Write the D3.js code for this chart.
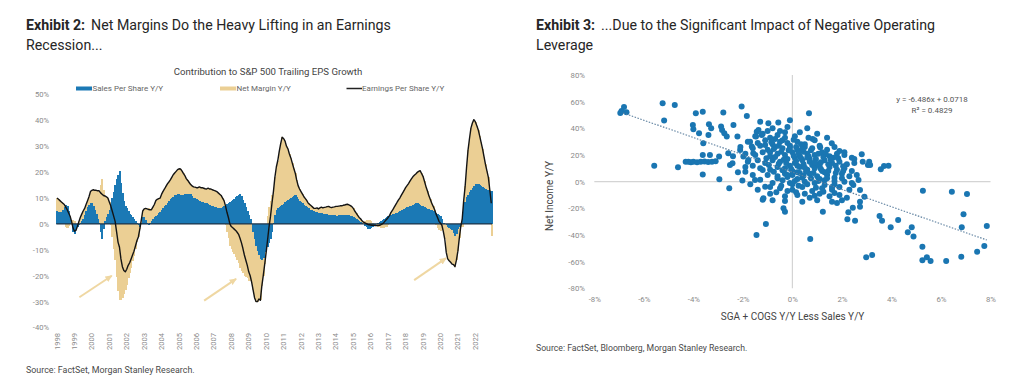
<!DOCTYPE html>
<html><head><meta charset="utf-8">
<script src="https://cdn.jsdelivr.net/npm/d3@7"></script>
<style>
body{margin:0;background:#fff;}
svg{display:block;font-family:Roboto,"Liberation Sans",Arial,sans-serif;}
</style>
</head><body>
<svg id="chart" width="1024" height="382"></svg>
<script>
// ---------- Exhibit 2 data (monthly, Jan 1998 - Dec 2022) ----------
const yearLabels = d3.range(1998, 2023).map(String);
const salesPerShare = [
 5,4.8,4.5,4.6,5.5,6.5,7.5,7,5,2,0,-3,
 -4,-2,-1,-0.5,0.5,1.2,2,3.5,5,6.5,7.5,8,
 8.2,7,5.5,4,2,0.5,-3,-6,-2,1,2.5,4,
 5.5,7.5,10,12.5,15,17.5,19,20.5,16,12,9,7,
 6,5,4,3.5,2.5,1.8,1,0.5,-0.5,-1,0.5,2.5,
 2.5,1.5,0.5,-0.5,0.2,1,1.8,2.5,3,3.5,4.2,4.8,
 5.5,6,6.8,7.5,8,8.8,9.5,10,10.5,11,11.3,11.5,
 11.4,11.3,11.2,11.3,11.5,11.6,11.6,11.7,11.5,10.8,10.2,10,
 9.6,9.2,8.8,8.6,8.4,8.2,8,8,7.6,7.3,7,6.8,
 6.6,6.5,6.3,6.2,6.2,6.3,6.6,7,7.3,7.6,8,8.5,
 8.8,9.3,9.8,10.3,10.7,11.2,11.6,10.8,9.4,8,6.5,5,
 3.5,2,0,-3,-6,-8.5,-10.5,-12,-13.5,-14,-13,-11,
 -10,-9,-7.5,-6,-3,0.5,3.5,5.3,6,6.5,6.8,7.2,
 7.8,8.3,8.8,9.3,9.8,10.2,10.5,10.8,11,10.5,9.7,9,
 8.5,8,7.5,7,6.6,6.2,5.5,5.3,5.1,4.9,4.7,4.5,
 4.3,4.2,4.1,4,3.9,3.8,3.7,3.6,3.6,3.5,3.4,3.3,
 3.2,3.2,3.3,3.4,3.5,3.6,3.6,3.6,3.5,3.3,3.2,3,
 2.8,2.4,2,1.7,1.2,0.8,0.3,0,-0.7,-1.3,-1.8,-2,
 -1.5,-1,-0.5,-0.3,0,0.4,0.8,1.2,1.7,2,2.4,2.8,
 3.1,3.2,3.5,3.8,4,4.2,4.2,4.6,5,5.3,5.5,5.8,
 6.1,6.4,6.6,6.8,7,7.3,7.6,7.9,7.9,7.6,7.3,7,
 6.8,6.5,6.2,5.9,5.6,5.5,5.2,4.9,4.6,4.2,3.9,3.5,
 3,2,0.4,-0.2,-0.5,-1,-1.5,-1.8,-2.5,-3.5,-4.5,-4,
 -2,-1,0,3,6.8,8.5,10.5,11.3,12.3,13.2,13.9,14.5,
 15.3,15.6,15.3,15,14.8,14.4,14,13.6,13.3,13,12.8,12.6
];
const netMargin = [
 5,4.7,4.5,3.9,2.5,1,-1,-1.5,-0.8,1,1,1.5,
 1.2,-0.5,0,1.3,2,2.6,3,2.5,2.5,2.5,3,4.5,
 4.8,6.2,7.5,9,10.8,12.3,15,17.5,13,9.8,8,6,
 3,-0.5,-5,-9.5,-14,-20.5,-26,-29.5,-29.5,-28.5,-27,-25.5,
 -23.5,-21,-19,-17,-14.5,-12.3,-9.5,-7,-4.5,-1,1,2.5,
 3.3,4.5,5.3,6.1,5.3,4.5,4.7,5,6,6,5.6,5.2,
 6,6.6,6.7,7,7.5,7.4,7.5,8,8.5,8.7,9,9.5,
 9.9,9.9,9.3,8.2,7.2,5.9,5.2,4.3,3.7,3.9,4.1,4.2,
 4.4,4.8,5.5,5.4,5.6,5.6,5.6,5.5,6.2,6.2,6.5,6.4,
 6.4,6.3,6.2,5.8,5.3,4.7,3.4,2,-0.3,-3.1,-5.5,-8.5,
 -9.8,-10.8,-11.8,-12.8,-13.9,-15.2,-17.1,-18.1,-18.9,-20,-20.5,-21,
 -22,-22,-22.5,-22.5,-22.5,-21.5,-19.5,-17,-16,-10,-7,-4.5,
 -1,3,6.5,9,11,12,14.5,16.7,18.5,21.5,24.2,26.3,
 25.2,23.7,21.2,19.7,17.2,15.3,13,10.7,8.7,6.5,5.1,4.5,
 4,3.5,3,2.8,2.4,1.8,2,1.7,1.4,1.1,1.3,1.7,
 1.5,2,2.4,2.2,2.5,2.7,3,3.2,2.9,2.8,3.1,3.3,
 3.6,3.6,3.6,3.6,3.5,3.6,3.7,3.9,4.1,4.1,3.9,3.7,
 3.2,2.6,2.2,1.6,1.3,1.2,0.9,0.7,1.1,1.4,1.6,1.7,
 1.1,0.5,0,-0.3,-0.6,-1,-1.3,-1.5,-1.7,-1.5,-1.2,-1,
 -0.6,0.1,1,1.5,2.3,3.1,4,4.6,5,5.7,6.5,7.2,
 7.9,8.4,9,9.7,10.4,10.9,11.2,11.4,12,12.7,13.3,12.5,
 11.6,10,8.3,6.9,5.4,4,2.8,1.9,0.9,-0.4,-1.4,-2.5,
 -2.7,-2.5,-3.4,-5.8,-10.5,-12.5,-12.7,-13,-13,-12.2,-12,-10,
 -8.5,-4.5,-1,-1,2.2,6,11.5,17.2,20.7,23.8,25.1,25.8,
 24.2,22.4,21.1,19,16.7,14.6,12,9.4,7.2,5,0.2,-4.6
];
const epsGrowth = [
 10,9.5,9,8.5,8,7.5,6.5,5.5,4.2,3,1,-1.5,
 -2.8,-2.5,-1,0.8,2.5,3.8,5,6,7.5,9,10.5,12.5,
 13,13.2,13,13,12.8,12.8,12,11.5,11,10.8,10.5,10,
 8.5,7,5,3,1,-3,-7,-9,-13.5,-16.5,-18,-18.5,
 -17.5,-16,-15,-13.5,-12,-10.5,-8.5,-6.5,-5,-2,1.5,5,
 5.8,6,5.8,5.6,5.5,5.5,6.5,7.5,9,9.5,9.8,10,
 11.5,12.6,13.5,14.5,15.5,16.2,17,18,19,19.7,20.3,21,
 21.3,21.2,20.5,19.5,18.7,17.5,16.8,16,15.2,14.7,14.3,14.2,
 14,14,14.3,14,14,13.8,13.6,13.5,13.8,13.5,13.5,13.2,
 13,12.8,12.5,12,11.5,11,10,9,7,4.5,2.5,0,
 -1,-1.5,-2,-2.5,-3.2,-4,-5.5,-7.3,-9.5,-12,-14,-16,
 -18.5,-20,-22.5,-25.5,-28.5,-30,-30,-29,-29.5,-24,-20,-15.5,
 -11,-6,-1,3,8,12.5,18,22,24.5,28,31,33.5,
 33,32,30,29,27,25.5,23.5,21.5,19.7,17,14.8,13.5,
 12.5,11.5,10.5,9.8,9,8,7.5,7,6.5,6,6,6.2,
 5.8,6.2,6.5,6.2,6.4,6.5,6.7,6.8,6.5,6.3,6.5,6.6,
 6.8,6.8,6.9,7,7,7.2,7.3,7.5,7.6,7.4,7.1,6.7,
 6,5,4.2,3.3,2.5,2,1.2,0.7,0.4,0.1,-0.2,-0.3,
 -0.4,-0.5,-0.5,-0.6,-0.6,-0.6,-0.5,-0.3,0,0.5,1.2,1.8,
 2.5,3.3,4.5,5.3,6.3,7.3,8.2,9.2,10,11,12,13,
 14,14.8,15.6,16.5,17.4,18.2,18.8,19.3,19.9,20.3,20.6,19.5,
 18.4,16.5,14.5,12.8,11,9.5,8,6.8,5.5,3.8,2.5,1,
 0.3,-0.5,-3,-6,-11,-13.5,-14.2,-14.8,-15.5,-15.7,-16.5,-14,
 -10.5,-5.5,-1,2,9,14.5,22,28.5,33,37,39,40.3,
 39.5,38,36.4,34,31.5,29,26,23,20.5,18,13,8
];
const leftYTicks = [-40,-30,-20,-10,0,10,20,30,40,50];
const leftLegend = ["Sales Per Share Y/Y","Net Margin Y/Y","Earnings Per Share Y/Y"];
// annotation arrows, in data space [month index, %]
const arrowFrom = [[15.4,-28.3],[101.3,-29.6],[245.9,-21.7]];
const arrowTo   = [[37.7,-20.0],[123.3,-21.2],[267.9,-13.2]];

// ---------- Exhibit 3 data ----------
const scatterPoints = [
 [-6.9,53],[-6.8,56],[-6.7,52],[-6.95,51.5],
 [-5.58,12],[-5.24,58.8],[-5.18,45.8],[-4.75,57.5],[-4.62,10.8],
 [-4.31,15],[-4.2,15],[-4.1,14.6],[-4.0,15],[-3.85,14.5],[-3.7,15],[-3.55,15.2],[-3.4,14.8],[-3.25,15],[-3.1,15.3],
 [-3.9,51.3],[-3.62,52.5],[-4.02,42.5],[-4.0,39.3],[-3.77,36.3],[-3.6,28.8],[-3.62,20],[-3.62,5.3],[-3.39,35],[-3.37,43],[-3.28,40],[-3.33,20],
 [-2.96,18.8],[-2.95,1.8],[-2.88,41.3],[-2.84,38.8],[-2.79,51.8],[-2.75,36.3],[-2.65,33.8],[-2.59,21.3],[-2.55,-5],[-2.52,12.5],[-2.42,13.8],
 [-2.38,42.5],[-2.22,33.8],[-2.11,23.8],[-2.05,56.3],[-2.02,0.8],[-1.84,49.3],[-1.9,7.5],[-1.98,18.8],[-1.78,16.3],[-1.71,30],[-1.64,26.3],
 [-1.58,21.3],[-1.51,1.3],[-1.47,33.8],[-1.44,37.5],[-1.37,38.8],[-1.3,45],[-1.24,35],[-1.2,8.8],[-1.1,-3.8],[-0.97,43.8],[-1.17,-12.5],
 [-1.07,-31.7],[-1.45,-40],
 [0.67,51.3],[-0.57,44.3],[0.82,32],[1.12,25.8],[1.59,28.8],[2.84,15],[3.1,15],[3.14,12.5],[3.57,9.3],[3.7,11.8],[3.88,12],
 [5.27,-6.8],[6.44,-7.5],[7.05,-9.3],
 [0.72,-43],[2.22,-28.2],[2.53,-29.3],[2.26,-23],[2.44,-19.5],[1.23,-22.5],[2.73,-18.8],[3.52,-25.7],[3.62,-29.3],[3.97,-34.2],
 [4.27,-28.7],[4.66,-38],[4.82,-34.2],[4.89,-41.2],[5.25,-48.8],[5.25,-59],[5.43,-56.7],[5.58,-59.5],[6.21,-59.5],[6.82,-56.3],
 [6.91,-24.5],[6.84,-34.2],[7.46,-52.5],[7.75,-48.2],[7.85,-33.2],[2.98,-56.7],[3.22,-55],[-0.36,-20],[-0.3,-22.5],
 [2.46,-2.5],[2.73,-6.3],[2.67,1.3],[2.91,-11.3],[2.73,-15],
 [-0.8,40],[-0.5,38],[-0.2,41],[0.3,37],[0.6,40],[1.0,36],[1.4,33],[-0.1,46],
 [-1.5,34],[-1.2,36],[-0.9,33],[-0.6,35],[-0.3,37],[0.1,34],[-1.0,38],[-0.4,31],
 [-1.8,30],[-1.4,29],[-1.1,31],[-0.8,28],[-0.5,30],[-0.2,29],[0.2,30],[0.5,28],[0.9,31],[-0.7,32],
 [-2.1,26],[-1.6,25],[-1.3,27],[-1.0,24],[-0.7,26],[-0.4,25],[-0.1,27],[0.2,24],[0.5,26],[0.8,25],[1.1,27],[1.4,24],[1.7,26],[1.9,23],[-0.9,22],
 [-2.4,19],[-1.9,21],[-1.5,20],[-1.2,22],[-0.9,19],[-0.6,21],[-0.3,20],[0,22],[0.3,19],[0.6,21],[0.9,20],[1.2,22],[1.5,19],[1.8,21],[2.1,20],[2.4,18],[0.1,18],[0.7,17],
 [-1.8,15],[-1.4,16],[-1.1,14],[-0.8,16],[-0.5,15],[-0.2,17],[0.1,14],[0.4,16],[0.7,15],[1.0,13],[1.3,16],[1.6,14],[1.9,15],[2.2,13],[2.5,14],[0.2,12],[0.9,11],
 [-1.3,10],[-0.9,9],[-0.6,11],[-0.3,10],[0,8],[0.3,11],[0.6,9],[0.9,10],[1.2,8],[1.5,11],[1.8,9],[2.1,10],[2.4,8],[-0.1,12],[1.1,12],
 [-1.0,5],[-0.6,4],[-0.3,6],[0,5],[0.4,3],[0.7,6],[1.0,4],[1.4,5],[1.7,3],[2.0,6],[2.3,4],[2.6,5],[0.2,7],[1.3,7],
 [-0.8,-1],[-0.4,1],[0,-2],[0.5,0],[0.9,-1],[1.3,1],[1.7,-2],[2.1,0],[2.4,-1],[0.2,2],[1.1,2],
 [-1.4,-6],[-0.9,-4],[-0.5,-5],[0,-6],[0.4,-4],[0.8,-7],[1.2,-5],[1.6,-6],[1.9,-4],[2.3,-6],
 [-0.9,-9],[-0.3,-11],[0.2,-10],[0.7,-12],[1.1,-9],[1.5,-11],[1.9,-10],[2.2,-12],
 [-1.2,-13.5],[-0.8,-14],[-0.3,-14.5],[0.4,-15],[1.0,-14],[1.6,-15],[1.8,-16],[2.0,-14],
 [-1.1,27.5],[-0.75,24.5],[-0.45,22.5],[-0.15,23.5],[0.15,26],[0.45,22.5],[0.75,23.5],[1.05,21],[1.35,20.5],[1.65,18],
 [-1.05,17.5],[-0.7,18.5],[-0.35,16.5],[0.05,19.5],[0.35,17.5],[0.65,19],[0.95,17],[1.25,18.5],[1.55,16.5],[1.85,17.5],
 [-0.95,12.5],[-0.55,13.5],[-0.25,14],[0.15,15.5],[0.45,13],[0.8,12.5],[1.15,14.5],[1.45,13],[1.75,12],[2.05,11.5],
 [-0.75,7.5],[-0.4,8.5],[-0.05,9.5],[0.3,6.5],[0.55,7.5],[0.85,6.5],[1.15,9.5],[1.45,8],[1.75,6.5],[2.05,8],
 [-0.6,2.5],[-0.2,3.5],[0.1,0.5],[0.45,4.5],[0.75,2.5],[1.05,0.5],[1.4,2.5],[1.7,0.5],[2.0,2.5],
 [-0.45,-3],[-0.1,-1],[0.25,-3],[0.6,-2],[0.95,-4.5],[1.3,-2.5],[1.6,-4],
 [-0.65,-8],[-0.2,-7],[0.15,-8],[0.5,-9],[0.9,-10.5],[1.25,-7.5],[1.7,-8.5],
 [-0.85,29.5],[-0.55,27],[-0.3,33],[0.05,31.5],[0.35,28],[0.65,33],[0.4,24.5],[-0.1,25.5],[0.6,18.2],[0.25,21.5],[0.9,14.5],[0.5,10.5],[-0.2,5],
 [-1.6,12],[-1.9,11],[-2.2,7],[-1.6,5],[-1.3,1.5],[-1.7,-2],
 [2.1,22],[2.5,17],[2.8,20.5],[3.05,12.5]
];
const trendSlope = -6.486, trendIntercept = 0.0718, trendR2 = 0.4829;
const rightXTicks = [-8,-6,-4,-2,0,2,4,6,8];
const rightYTicks = [-80,-60,-40,-20,0,20,40,60,80];

// ---------- colours ----------
const BLUE = "#1b79b5", TAN = "#ebcf94", SCAT = "#1a76b2";

const svg = d3.select("#chart");

// ================= LEFT: Exhibit 2 =================
const titleColor = "#262626";
function exhibitTitle(x, label, line1, line2) {
  const t = svg.append("text").attr("x", x).attr("y", 30).attr("font-size", 14.2).attr("fill", titleColor);
  t.append("tspan").attr("font-weight", "bold").text(label);
  t.append("tspan").attr("dx", 6).text(line1);
  svg.append("text").attr("x", x).attr("y", 50).attr("font-size", 14.2).attr("fill", titleColor).text(line2);
}
exhibitTitle(26, "Exhibit 2:", "Net Margins Do the Heavy Lifting in an Earnings", "Recession...");

const months = d3.range(epsGrowth.length);
const x1 = d3.scaleBand().domain(months).range([56.3, 492]).padding(0);
const y1 = d3.scaleLinear().domain([-40, 50]).range([327.5, 94.5]);
const barW = x1.step() + 0.6;

svg.append("text").attr("x", 268).attr("y", 74.5).attr("text-anchor", "middle")
  .attr("font-size", 9.6).attr("fill", "#444").text("Contribution to S&P 500 Trailing EPS Growth");

// legend
const lg = svg.append("g").attr("font-size", 8).attr("fill", "#666");
lg.append("rect").attr("x", 76).attr("y", 86.5).attr("width", 16).attr("height", 4).attr("fill", BLUE);
lg.append("text").attr("x", 92.5).attr("y", 91.3).text(leftLegend[0]);
lg.append("rect").attr("x", 220).attr("y", 86.5).attr("width", 16).attr("height", 4).attr("fill", TAN);
lg.append("text").attr("x", 236.5).attr("y", 91.3).text(leftLegend[1]);
lg.append("line").attr("x1", 346.5).attr("x2", 362).attr("y1", 88.5).attr("y2", 88.5).attr("stroke", "#222").attr("stroke-width", 1.5);
lg.append("text").attr("x", 362).attr("y", 91.3).text(leftLegend[2]);

// y axis labels
const ya = svg.append("g").attr("transform", "translate(49,0)")
  .call(d3.axisLeft(y1).tickValues(leftYTicks).tickFormat(d => d + "%").tickSize(0).tickPadding(0));
ya.select(".domain").remove();
ya.selectAll("text").attr("font-size", 7.6).attr("fill", "#8a8a8a").attr("font-family", "Roboto, sans-serif");

// x axis year labels (rotated)
const xa = svg.append("g").attr("transform", "translate(0,333)")
  .call(d3.axisBottom(x1).tickValues(months.filter(m => m % 12 === 0))
    .tickFormat(m => yearLabels[m / 12]).tickSize(0).tickPadding(0));
xa.select(".domain").remove();
xa.selectAll("text").attr("font-size", 7.6).attr("fill", "#8a8a8a").attr("font-family", "Roboto, sans-serif")
  .attr("transform", "rotate(-90)").attr("text-anchor", "end").attr("x", 0).attr("y", 0).attr("dy", "0.33em");

// stacked bars
const rows = months.map(i => ({ i, sales: salesPerShare[i], margin: netMargin[i] }));
const stacked = d3.stack().keys(["sales", "margin"]).offset(d3.stackOffsetDiverging)(rows);
const colors = { sales: BLUE, margin: TAN };
[stacked[1], stacked[0]].forEach(s => {
  svg.append("g").attr("fill", colors[s.key]).attr("shape-rendering", "crispEdges")
    .selectAll("rect").data(s).join("rect")
    .attr("x", d => x1(d.data.i))
    .attr("width", barW)
    .attr("y", d => y1(Math.max(d[0], d[1])))
    .attr("height", d => Math.abs(y1(d[0]) - y1(d[1])));
});

// zero line
svg.append("line").attr("x1", x1.range()[0]).attr("x2", x1.range()[1])
  .attr("y1", y1(0)).attr("y2", y1(0)).attr("stroke", "#1e3347").attr("stroke-width", 1.2);

// EPS line
svg.append("path").datum(months)
  .attr("fill", "none").attr("stroke", "#141414").attr("stroke-width", 1.4).attr("stroke-linejoin", "round")
  .attr("d", d3.line().x(i => x1(i) + x1.bandwidth() / 2).y(i => y1(epsGrowth[i])));

// arrows
const defs = svg.append("defs");
defs.append("marker").attr("id", "ah").attr("viewBox", "0 0 10 10").attr("refX", 8).attr("refY", 5)
  .attr("markerWidth", 4).attr("markerHeight", 4).attr("orient", "auto")
  .append("path").attr("d", "M0,1 L9,5 L0,9 Z").attr("fill", "#efd7a2");
arrowFrom.forEach((f, k) => {
  const t = arrowTo[k];
  const xm = m => x1.range()[0] + (x1.step()) * m + x1.bandwidth() / 2;
  svg.append("line").attr("x1", xm(f[0])).attr("y1", y1(f[1])).attr("x2", xm(t[0])).attr("y2", y1(t[1]))
    .attr("stroke", "#efd7a2").attr("stroke-width", 2).attr("marker-end", "url(#ah)");
});

svg.append("text").attr("x", 26).attr("y", 373).attr("font-size", 8.9).attr("fill", "#4a4a4a")
  .text("Source: FactSet, Morgan Stanley Research.");

// ================= RIGHT: Exhibit 3 =================
exhibitTitle(536, "Exhibit 3:", "...Due to the Significant Impact of Negative Operating", "Leverage");

const x2 = d3.scaleLinear().domain([-8, 8]).range([594.3, 990.5]);
const y2 = d3.scaleLinear().domain([-80, 80]).range([288.3, 75]);

svg.append("line").attr("x1", x2(-8)).attr("x2", x2(8)).attr("y1", y2(0)).attr("y2", y2(0))
  .attr("stroke", "#d4d4d4").attr("stroke-width", 1.2);
svg.append("line").attr("x1", x2(0)).attr("x2", x2(0)).attr("y1", y2(80)).attr("y2", y2(-80))
  .attr("stroke", "#d4d4d4").attr("stroke-width", 1.2);

const ya2 = svg.append("g").attr("transform", "translate(585,0)")
  .call(d3.axisLeft(y2).tickValues(rightYTicks).tickFormat(d => d + "%").tickSize(0).tickPadding(0));
ya2.select(".domain").remove();
ya2.selectAll("text").attr("font-size", 7.8).attr("fill", "#8a8a8a").attr("font-family", "Roboto, sans-serif");

const xa2 = svg.append("g").attr("transform", "translate(0,296)")
  .call(d3.axisBottom(x2).tickValues(rightXTicks).tickFormat(d => d + "%").tickSize(0).tickPadding(0));
xa2.select(".domain").remove();
xa2.selectAll("text").attr("font-size", 7.8).attr("fill", "#8a8a8a").attr("font-family", "Roboto, sans-serif");

svg.append("g").attr("fill", SCAT).selectAll("circle").data(scatterPoints).join("circle")
  .attr("cx", d => x2(d[0])).attr("cy", d => y2(d[1])).attr("r", 3);

const trendXs = [-6.83, 7.85];
svg.append("path").datum(trendXs)
  .attr("fill", "none").attr("stroke", "#5c7f9e").attr("stroke-width", 1.1).attr("stroke-dasharray", "1.5,1.5")
  .attr("d", d3.line().x(v => x2(v)).y(v => y2(trendSlope * v + trendIntercept * 100)));

svg.append("text").attr("x", 932).attr("y", 101.5).attr("text-anchor", "middle").attr("font-size", 8)
  .attr("fill", "#555").text(`y = ${trendSlope}x + ${trendIntercept}`);
svg.append("text").attr("x", 932).attr("y", 113.3).attr("text-anchor", "middle").attr("font-size", 8)
  .attr("fill", "#555").text(`R² = ${trendR2}`);

svg.append("text").attr("transform", "translate(553,196) rotate(-90)").attr("text-anchor", "middle")
  .attr("font-size", 10).attr("fill", "#444").text("Net Income Y/Y");
svg.append("text").attr("x", 792.5).attr("y", 320).attr("text-anchor", "middle")
  .attr("font-size", 10).attr("fill", "#444").text("SGA + COGS Y/Y Less Sales Y/Y");

svg.append("text").attr("x", 536).attr("y", 351).attr("font-size", 8.7).attr("fill", "#4a4a4a")
  .text("Source: FactSet, Bloomberg, Morgan Stanley Research.");
</script>
</body></html>
